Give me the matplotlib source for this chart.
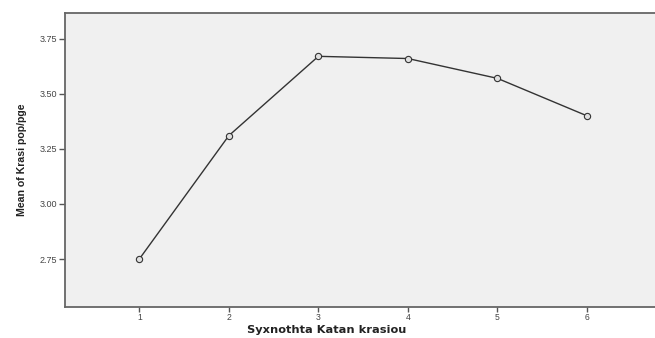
import matplotlib
matplotlib.use("Agg")
import matplotlib.pyplot as plt
from matplotlib import font_manager

categories = [1, 2, 3, 4, 5, 6]
means = [2.75, 3.31, 3.67, 3.66, 3.57, 3.40]
yticks = [2.75, 3.00, 3.25, 3.50, 3.75]
xlabel = "Syxnothta Katan krasiou"
ylabel = "Mean of Krasi pop/pge"

names = {f.name for f in font_manager.fontManager.ttflist}
narrow = "Liberation Sans Narrow" if "Liberation Sans Narrow" in names else "Liberation Sans"

fig = plt.figure(figsize=(6.55, 3.38), dpi=100)
ax = fig.add_axes([65/655, 1 - 307.3/338, 1 - 65/655, (307.3 - 12.7)/338])
ax.set_facecolor("#F0F0F0")

ax.plot(categories, means, color="#333333", lw=1.0, marker="o", ms=4.5,
        mfc="#E0E0E0", mec="#333333", mew=0.8)

ax.set_xlim(0.17, 6.76)
ax.set_ylim(2.531, 3.868)
ax.set_xticks(categories)
ax.set_xticklabels([str(c) for c in categories])
ax.set_yticks(yticks)
ax.set_yticklabels([f"{v:.2f}" for v in yticks])

for s in ["left", "bottom", "top"]:
    ax.spines[s].set_color("#666666")
    ax.spines[s].set_linewidth(1.3)
ax.spines["right"].set_visible(False)

ax.tick_params(axis="both", direction="out", length=4, width=1, color="#555555",
               labelsize=6.5, labelcolor="#444444", pad=1.5)
ax.tick_params(axis="x", length=3.5, pad=0.5, labelsize=6.2)
for lab in ax.get_xticklabels() + ax.get_yticklabels():
    lab.set_fontfamily("Liberation Sans")

fig.text(327/655, 1 - 330/338, xlabel, ha="center", va="center", fontsize=8.2,
         fontweight="bold", family="DejaVu Sans", color="#222222")
ax.set_ylabel(ylabel, fontsize=7.6, fontweight="bold", family=narrow,
              color="#222222", labelpad=9)

fig.savefig("out.png", dpi=100, facecolor="white")
